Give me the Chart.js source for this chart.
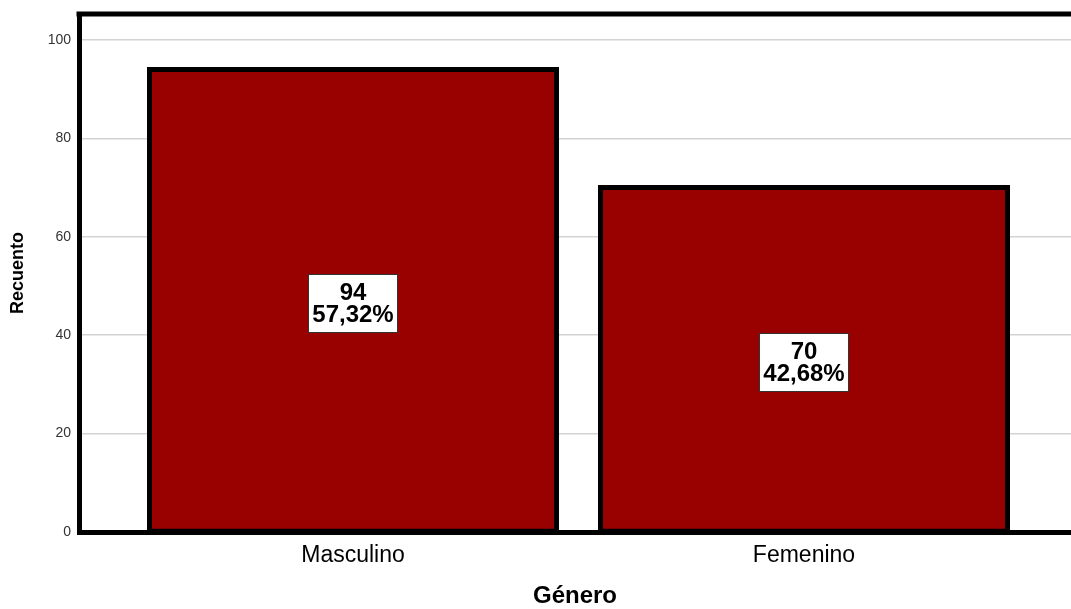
<!DOCTYPE html>
<html>
<head>
<meta charset="utf-8">
<script src="https://cdn.jsdelivr.net/npm/chart.js@4"></script>
<style>
    html, body { margin: 0; padding: 0; background: #fff; }
    #wrap { width: 1071px; height: 609px; }
</style>
</head>
<body>
<div id="wrap"><canvas id="chart"></canvas></div>
<script>
const FONT = "'Liberation Sans', Arial, sans-serif";

const categories = ["Masculino", "Femenino"];
const counts = [94, 70];
const percentLabels = ["57,32%", "42,68%"];
const yTicks = [0, 20, 40, 60, 80, 100];

const COLORS = {
    bar: "#990000",
    frame: "#000000",
    grid: "#d3d3d3",
    tick: "#333333",
    text: "#000000",
};

// top edge of the frame (SPSS draws a closed box, Chart.js only gives left/bottom)
const frameTop = {
    id: "frameTop",
    afterDraw(chart) {
        const { ctx, chartArea } = chart;
        ctx.save();
        ctx.strokeStyle = COLORS.frame;
        ctx.lineWidth = 5;
        ctx.beginPath();
        ctx.moveTo(chartArea.left - 2.5, chartArea.top);
        ctx.lineTo(chartArea.right, chartArea.top);
        ctx.stroke();
        ctx.restore();
    },
};

// white boxes with count and percent in the middle of each bar
const barLabels = {
    id: "barLabels",
    afterDatasetsDraw(chart) {
        const { ctx } = chart;
        const meta = chart.getDatasetMeta(0);
        ctx.save();
        ctx.font = "bold 24px " + FONT;
        ctx.textAlign = "center";
        ctx.textBaseline = "middle";
        meta.data.forEach((bar, i) => {
            const lines = [String(counts[i]), percentLabels[i]];
            const w = Math.max(...lines.map(l => ctx.measureText(l).width)) + 8;
            const lineH = 22;
            const h = lines.length * lineH + 14;
            const cx = bar.x;
            const cy = (bar.y + bar.base) / 2 + 3;
            ctx.fillStyle = "#ffffff";
            ctx.fillRect(cx - w / 2, cy - h / 2, w, h);
            ctx.strokeStyle = "#333333";
            ctx.lineWidth = 1;
            ctx.strokeRect(Math.round(cx - w / 2) + 0.5, Math.round(cy - h / 2) + 0.5, Math.round(w), Math.round(h));
            ctx.fillStyle = COLORS.text;
            lines.forEach((l, k) => {
                ctx.fillText(l, cx, cy + (k - (lines.length - 1) / 2) * lineH + 1);
            });
        });
        ctx.restore();
    },
};

const ctx = document.getElementById("chart");
new Chart(ctx, {
    type: "bar",
    data: {
        datasets: [{
            data: counts.map((v, i) => ({ x: i, y: v })),
            backgroundColor: COLORS.bar,
            borderColor: COLORS.frame,
            borderWidth: 5,
            borderSkipped: false,
            inflateAmount: 2.5,
            barPercentage: 0.9024,
            categoryPercentage: 1,
        }],
    },
    options: {
        responsive: true,
        maintainAspectRatio: false,
        animation: false,
        layout: { padding: { top: 14, right: 0, bottom: 0, left: 0 } },
        plugins: {
            legend: { display: false },
            tooltip: { enabled: false },
        },
        scales: {
            x: {
                type: "linear",
                offset: false,
                bounds: "data",
                min: -0.6075,
                max: 1.592,
                afterBuildTicks: s => { s.ticks = categories.map((c, i) => ({ value: i })); },
                afterFit: s => { s.height = 77; },
                ticks: {
                    callback: v => categories[v],
                    font: { family: FONT, size: 23 },
                    color: COLORS.text,
                    padding: 10,
                    maxRotation: 0,
                    autoSkip: false,
                },
                grid: { display: false, drawTicks: false },
                border: { display: true, color: COLORS.frame, width: 5 },
                title: {
                    display: true,
                    text: "Género",
                    font: { family: FONT, size: 24, weight: "bold" },
                    color: COLORS.text,
                    padding: { top: 0, bottom: -2 },
                },
            },
            y: {
                min: 0,
                max: 105.28,
                afterBuildTicks: s => { s.ticks = yTicks.map(v => ({ value: v })); },
                afterFit: s => { s.width = 79; s.paddingTop = 0; s.paddingBottom = 0; },
                ticks: {
                    font: { family: FONT, size: 14 },
                    color: COLORS.tick,
                    padding: 8,
                },
                grid: { color: COLORS.grid, lineWidth: 1.5, drawTicks: false },
                border: { display: true, color: COLORS.frame, width: 5 },
                title: {
                    display: true,
                    text: "Recuento",
                    font: { family: FONT, size: 18, weight: "bold" },
                    color: COLORS.text,
                    padding: { top: 7, bottom: 0 },
                },
            },
        },
    },
    plugins: [frameTop, barLabels],
});
</script>
</body>
</html>
